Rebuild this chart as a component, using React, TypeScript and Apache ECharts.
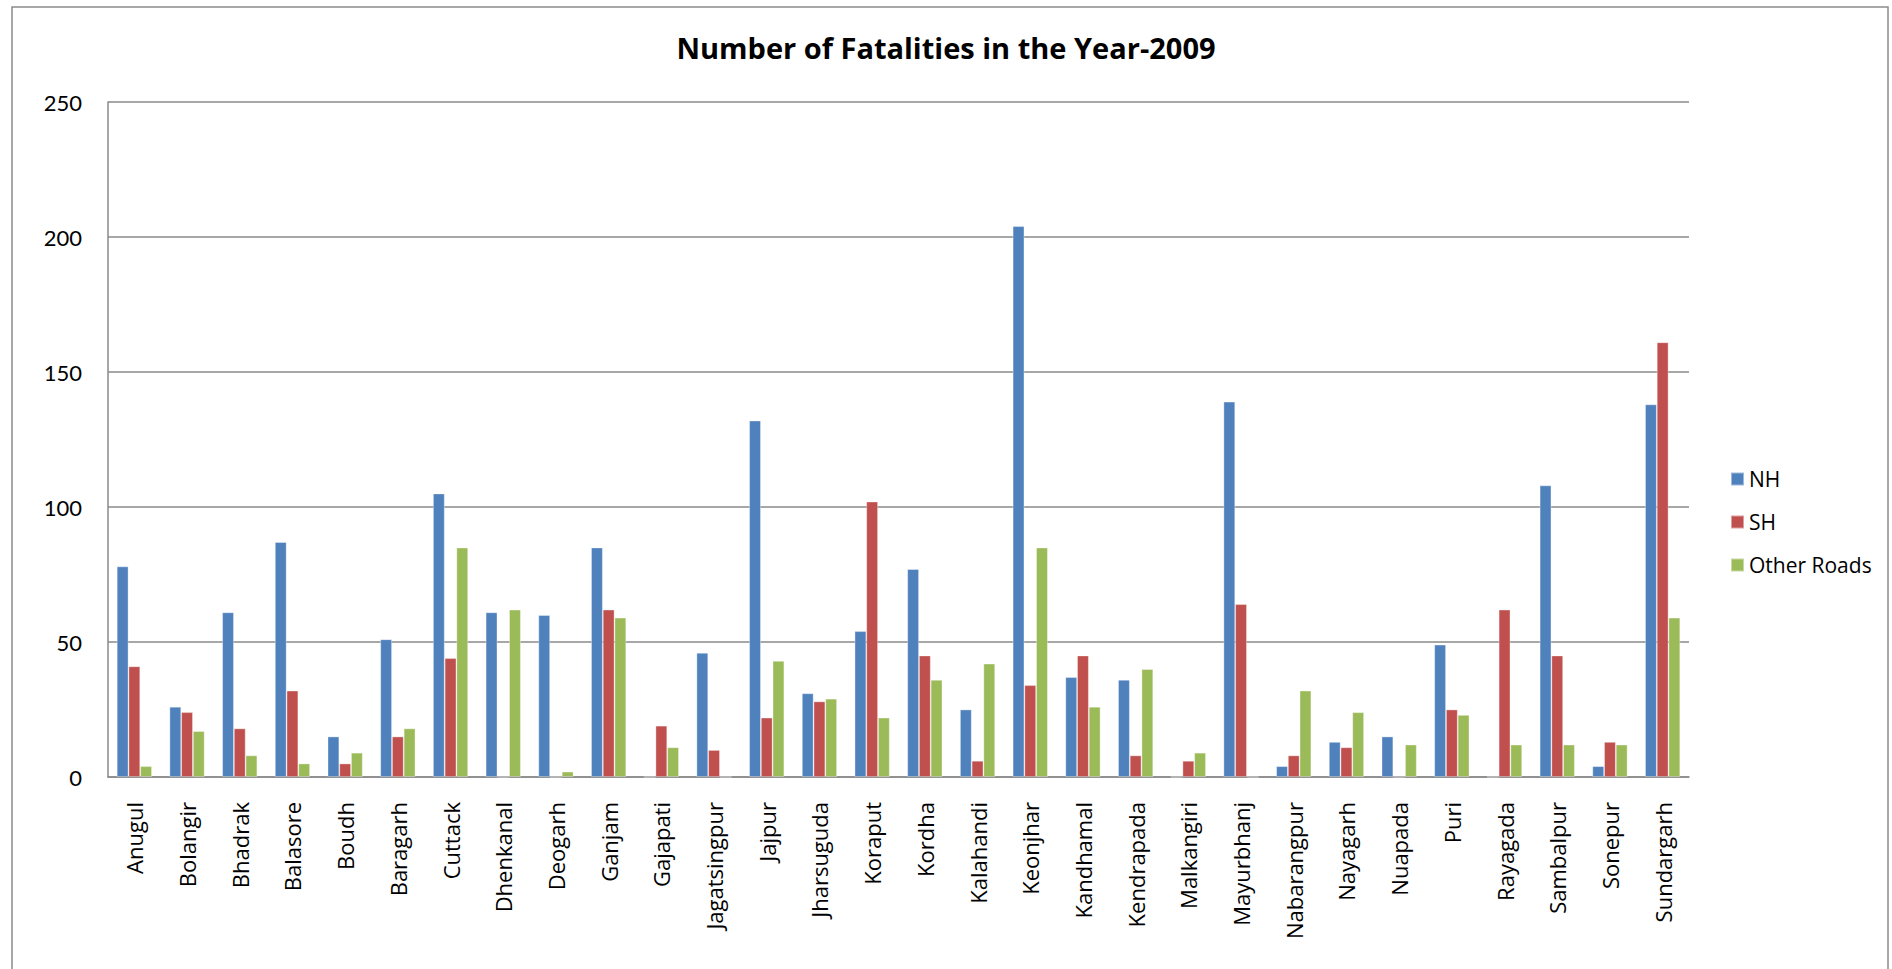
import React, { useEffect, useRef } from "react";
import * as echarts from "echarts";

// Districts of Odisha, in the order they appear along the x axis
const districts = [
  "Anugul", "Bolangir", "Bhadrak", "Balasore", "Boudh", "Baragarh", "Cuttack",
  "Dhenkanal", "Deogarh", "Ganjam", "Gajapati", "Jagatsingpur", "Jajpur",
  "Jharsuguda", "Koraput", "Kordha", "Kalahandi", "Keonjhar", "Kandhamal",
  "Kendrapada", "Malkangiri", "Mayurbhanj", "Nabarangpur", "Nayagarh",
  "Nuapada", "Puri", "Rayagada", "Sambalpur", "Sonepur", "Sundargarh",
];

// Fatalities on National Highways
const nhFatalities = [
  78, 26, 61, 87, 15, 51, 105, 61, 60, 85, 0, 46, 132, 31, 54,
  77, 25, 204, 37, 36, 0, 139, 4, 13, 15, 49, 0, 108, 4, 138,
];

// Fatalities on State Highways
const shFatalities = [
  41, 24, 18, 32, 5, 15, 44, 0, 0, 62, 19, 10, 22, 28, 102,
  45, 6, 34, 45, 8, 6, 64, 8, 11, 0, 25, 62, 45, 13, 161,
];

// Fatalities on all other roads
const otherFatalities = [
  4, 17, 8, 5, 9, 18, 85, 62, 2, 59, 11, 0, 43, 29, 22,
  36, 42, 85, 26, 40, 9, 0, 32, 24, 12, 23, 12, 12, 12, 59,
];

const seriesNames = ["NH", "SH", "Other Roads"];
const seriesColors = ["#4F81BD", "#C0504D", "#9BBB59"];

const WIDE_FONT = "'Open Sans', 'Noto Sans', sans-serif";
const NUM_FONT = "Lato, 'Noto Sans', sans-serif";
const GRID_GRAY = "#8a8a8a";

export default function App() {
  const ref = useRef<HTMLDivElement>(null);

  useEffect(() => {
    document.body.style.margin = "0";
    if (!ref.current) return;
    const chart = echarts.init(ref.current, null, { renderer: "svg" });

    const values = [nhFatalities, shFatalities, otherFatalities];

    chart.setOption({
      animation: false,
      backgroundColor: "#ffffff",
      title: {
        text: "Number of Fatalities in the Year-2009",
        left: "center",
        top: 28,
        textStyle: {
          fontFamily: WIDE_FONT,
          fontSize: 29,
          fontWeight: "bold",
          color: "#000000",
        },
      },
      legend: {
        orient: "vertical",
        left: 1725,
        top: 463,
        itemWidth: 13,
        itemHeight: 13,
        itemGap: 21,
        icon: "rect",
        data: seriesNames,
        textStyle: {
          fontFamily: WIDE_FONT,
          fontSize: 21,
          lineHeight: 22,
          color: "#000000",
        },
      },
      graphic: [
        {
          type: "rect",
          shape: { x: 12, y: 7, width: 1876, height: 1000 },
          style: { fill: "none", stroke: "#8c8c8c", lineWidth: 1.5 },
          silent: true,
        },
      ],
      grid: {
        left: 108,
        right: 203,
        top: 102,
        bottom: 192,
        containLabel: false,
      },
      xAxis: {
        type: "category",
        data: districts,
        axisLine: { show: true, lineStyle: { color: GRID_GRAY, width: 1.5 } },
        axisTick: { show: false },
        axisLabel: {
          rotate: 90,
          interval: 0,
          margin: 25,
          fontFamily: WIDE_FONT,
          fontSize: 22,
          color: "#000000",
        },
      },
      yAxis: {
        type: "value",
        min: 0,
        max: 250,
        interval: 50,
        axisLine: { show: true, lineStyle: { color: GRID_GRAY, width: 1.5 } },
        axisTick: { show: false },
        splitLine: { show: true, lineStyle: { color: GRID_GRAY, width: 1.5 } },
        axisLabel: {
          margin: 26,
          fontFamily: NUM_FONT,
          fontSize: 22,
          color: "#000000",
        },
      },
      series: seriesNames.map((name, i) => ({
        name,
        type: "bar",
        data: values[i],
        barGap: "0%",
        barCategoryGap: "33.3%",
        itemStyle: {
          color: seriesColors[i],
          borderColor: "rgba(255,255,255,0.45)",
          borderWidth: 0.8,
        },
      })),
    });

    return () => chart.dispose();
  }, []);

  return <div ref={ref} style={{ width: 1892, height: 969 }} />;
}
